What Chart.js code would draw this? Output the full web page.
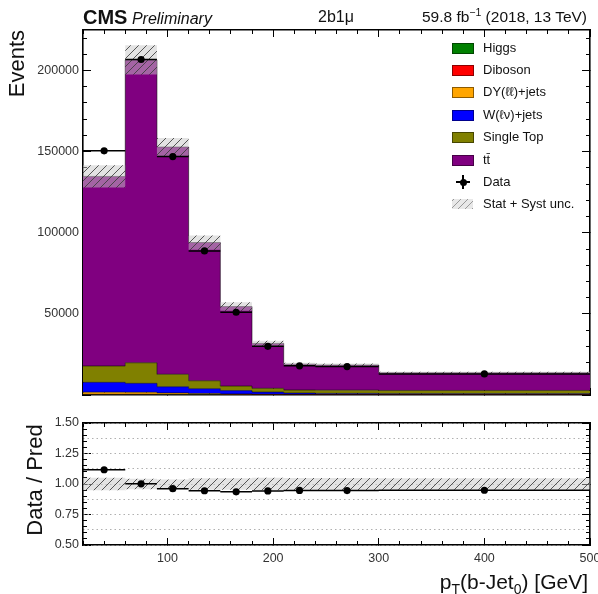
<!DOCTYPE html>
<html lang="en">
<head>
<meta charset="UTF-8">
<title>pT(b-Jet0) - 2b1mu</title>
<script src="https://cdn.jsdelivr.net/npm/chart.js"></script>
<style>
  body { margin: 0; background: #fff; font-family: "Liberation Sans", Arial, sans-serif; color: #111; }
  #wrap { position: relative; width: 598px; height: 594px; overflow: hidden; }
  canvas { position: absolute; left: 0; }
  .txt { position: absolute; white-space: nowrap; }
  .rot { position: absolute; white-space: nowrap; transform-origin: 0 0; transform: rotate(-90deg); width: 200px; }
  .leg { position: absolute; left: 452px; height: 22px; line-height: 22px; font-size: 13px; white-space: nowrap; }
  .leg .box { position: absolute; left: 0; top: 6px; width: 20px; height: 9px; border: 1px solid rgba(0,0,0,0.45); }
  .leg .lab { position: absolute; left: 31px; top: 0; }
</style>
</head>
<body>
<div id="wrap">
  <canvas id="mainChart" width="598" height="400" style="top:0"></canvas>
  <canvas id="ratioChart" width="598" height="194" style="top:400px"></canvas>

  <div class="txt" style="left:83px; top:7px; line-height:20px;"><b style="font-size:20px;">CMS</b> <i style="font-size:16px;">Preliminary</i></div>
  <div class="txt" style="left:318px; top:7px; font-size:16px; line-height:20px;">2b1μ</div>
  <div class="txt" style="right:11px; top:7px; font-size:15.5px; line-height:20px;">59.8 fb<sup style="font-size:10.5px; line-height:0;">−1</sup> (2018, 13 TeV)</div>

  <div class="rot" style="left:6px; top:230px; font-size:22px; line-height:22px; text-align:right;">Events</div>
  <div class="rot" style="left:24px; top:580px; font-size:22px; line-height:22px; text-align:center;">Data / Pred</div>
  <div class="txt" style="right:10px; top:570px; font-size:21px; line-height:24px;">p<sub style="font-size:14px; line-height:0;">T</sub>(b-Jet<sub style="font-size:14px; line-height:0;">0</sub>) [GeV]</div>

  <div id="legend"></div>
</div>

<script>
// binning of pT(b-Jet0) [GeV]
const binEdges = [20, 60, 90, 120, 150, 180, 210, 240, 300, 500];
const binCenters = [40, 75, 105, 135, 165, 195, 225, 270, 400];

// expected events per bin, per process
const higgs     = [150, 160, 120, 90, 60, 40, 30, 30, 25];
const diboson   = [300, 320, 260, 200, 150, 110, 80, 80, 70];
const dyJets    = [1300, 1200, 900, 650, 450, 320, 230, 220, 180];
const wJets     = [6050, 5500, 3800, 2950, 2050, 1330, 860, 670, 525];
const singleTop = [10100, 12700, 7700, 4900, 2800, 2300, 1900, 2000, 2000];
const ttbar     = [116850, 186700, 140100, 85200, 49000, 27700, 15900, 15500, 10900];

// observed data and total (stat + syst) uncertainty on the prediction
const dataCounts = [150500, 206800, 147000, 88800, 51000, 30000, 18000, 17500, 13000];
const mcUnc      = [6800, 9000, 5600, 4400, 2600, 1600, 950, 900, 650];

const yTickLabels = [50000, 100000, 150000, 200000];
const ratioTickLabels = [0.5, 0.75, 1.0, 1.25, 1.5];
const xTickLabels = [100, 200, 300, 400, 500];

const procNames  = ['Higgs', 'Diboson', 'DY(ℓℓ)+jets', 'W(ℓν)+jets', 'Single Top', 'tt̄'];
const procValues = [higgs, diboson, dyJets, wJets, singleTop, ttbar];
const procColors = ['#008000', '#ff0000', '#ffa500', '#0000ff', '#808000', '#800080'];

// hatch pattern for the uncertainty band
function makeHatch() {
    const c = document.createElement('canvas');
    c.width = 8; c.height = 8;
    const g = c.getContext('2d');
    g.fillStyle = 'rgba(200,200,200,0.5)';
    g.fillRect(0, 0, 8, 8);
    g.strokeStyle = 'rgba(60,60,60,0.85)';
    g.lineWidth = 1;
    g.beginPath();
    g.moveTo(0, 8); g.lineTo(8, 0);
    g.moveTo(-4, 4); g.lineTo(4, -4);
    g.moveTo(4, 12); g.lineTo(12, 4);
    g.stroke();
    return g.createPattern(c, 'repeat');
}
const hatch = makeHatch();

// histogram values -> points for a stepped line
function stepPoints(vals) {
    const pts = vals.map((v, i) => ({ x: binEdges[i], y: v }));
    pts.push({ x: binEdges[binEdges.length - 1], y: vals[vals.length - 1] });
    return pts;
}
// horizontal error bars (bin widths) with gaps between bins
function xErrPoints(vals) {
    const pts = [];
    vals.forEach((v, i) => {
        pts.push({ x: binEdges[i], y: v });
        pts.push({ x: binEdges[i + 1], y: v });
        pts.push({ x: binCenters[i], y: null });
    });
    return pts;
}

const total = binCenters.map((_, i) => procValues.reduce((s, arr) => s + arr[i], 0));
const ratio = dataCounts.map((d, i) => d / total[i]);

// ---- main panel datasets ----
const mainSets = [];
let cum = binCenters.map(() => 0);
procValues.forEach((vals, k) => {
    cum = cum.map((c, i) => c + vals[i]);
    mainSets.push({
        label: procNames[k],
        data: stepPoints(cum),
        stepped: true,
        fill: k === 0 ? 'origin' : '-1',
        backgroundColor: procColors[k],
        borderColor: 'rgba(0,0,0,0.55)',
        borderWidth: 1,
        pointRadius: 0,
        order: 10 + k
    });
});
mainSets.push({
    label: 'unc up', data: stepPoints(total.map((t, i) => t + mcUnc[i])),
    stepped: true, fill: '+1', backgroundColor: hatch, borderWidth: 0, pointRadius: 0, order: 5
});
mainSets.push({
    label: 'unc down', data: stepPoints(total.map((t, i) => t - mcUnc[i])),
    stepped: true, fill: false, borderWidth: 0, pointRadius: 0, order: 4
});
mainSets.push({
    label: 'Data xerr', data: xErrPoints(dataCounts),
    borderColor: '#000', borderWidth: 1.5, pointRadius: 0, fill: false, order: 1
});
mainSets.push({
    label: 'Data', data: dataCounts.map((d, i) => ({ x: binCenters[i], y: d })),
    showLine: false, pointRadius: 3.6, pointBackgroundColor: '#000', pointBorderWidth: 0, order: 0
});

// ---- ratio panel datasets ----
const ratioSets = [
    {
        label: 'band up', data: stepPoints(total.map((t, i) => 1 + mcUnc[i] / t)),
        stepped: true, fill: '+1', backgroundColor: hatch, borderWidth: 0, pointRadius: 0, order: 5
    },
    {
        label: 'band down', data: stepPoints(total.map((t, i) => 1 - mcUnc[i] / t)),
        stepped: true, fill: false, borderWidth: 0, pointRadius: 0, order: 4
    },
    {
        label: 'ratio xerr', data: xErrPoints(ratio),
        borderColor: '#000', borderWidth: 1.5, pointRadius: 0, fill: false, order: 1
    },
    {
        label: 'ratio', data: ratio.map((r, i) => ({ x: binCenters[i], y: r })),
        showLine: false, pointRadius: 3.6, pointBackgroundColor: '#000', pointBorderWidth: 0, order: 0
    }
];

const tickFont = { family: 'Liberation Sans', size: 12.5 };

function tickValues(min, max, step) {
    const out = [];
    for (let v = min; v <= max + 1e-9; v += step) out.push(Math.round(v * 1000) / 1000);
    return out;
}

// one tick-only axis; size sets the axis box thickness
function axis(opts) {
    const onArea = !!opts.gridOnArea;
    return {
        type: 'linear',
        position: opts.position,
        min: opts.min, max: opts.max,
        weight: opts.weight || 0,
        border: opts.border ? { display: true, color: '#000', width: 1.6 }
                            : { display: false, dash: opts.dash || [] },
        grid: {
            drawOnChartArea: onArea,
            drawTicks: !onArea,
            tickLength: opts.tick || -4,
            tickWidth: 1, tickColor: '#000',
            color: opts.gridColor || '#000',
            lineWidth: 1
        },
        ticks: {
            autoSkip: false,
            maxRotation: 0,
            padding: opts.padding || 0,
            color: '#333',
            font: tickFont,
            callback: v => (opts.labels && opts.labels.some(l => Math.abs(l - v) < 1e-9) ? (opts.fmt ? opts.fmt(v) : String(v)) : '')
        },
        afterBuildTicks: s => { s.ticks = tickValues(opts.from !== undefined ? opts.from : opts.min, opts.max, opts.step).map(v => ({ value: v })); },
        afterFit: s => {
            if (s.isHorizontal()) s.height = opts.size; else s.width = opts.size;
            s.paddingTop = 0; s.paddingBottom = 0; s.paddingLeft = 0; s.paddingRight = 0;
        }
    };
}

const xr = { min: 20, max: 500 };
const ym = { min: 0, max: 225000 };
const yr = { min: 0.5, max: 1.5 };

const mainScales = {
    x:       axis({ position: 'bottom', ...xr, from: 100, step: 100, tick: -7, size: 5, weight: 1, border: true }),
    xMin:    axis({ position: 'bottom', ...xr, step: 20, tick: -4, size: 0 }),
    xTop:    axis({ position: 'top', ...xr, from: 100, step: 100, tick: -7, size: 30, weight: 1, border: true }),
    xTopMin: axis({ position: 'top', ...xr, step: 20, tick: -4, size: 0 }),
    y:       axis({ position: 'left', ...ym, step: 50000, tick: -8, size: 83, weight: 1, border: true, labels: yTickLabels, padding: 12 }),
    yMin:    axis({ position: 'left', ...ym, step: 10000, tick: -4, size: 0 }),
    yR:      axis({ position: 'right', ...ym, step: 50000, tick: -8, size: 8, weight: 1, border: true }),
    yRMin:   axis({ position: 'right', ...ym, step: 10000, tick: -4, size: 0 })
};

const ratioScales = {
    x:       axis({ position: 'bottom', ...xr, from: 100, step: 100, tick: -7, size: 49, weight: 1, border: true, labels: xTickLabels, padding: 13 }),
    xMin:    axis({ position: 'bottom', ...xr, step: 20, tick: -4, size: 0 }),
    xTop:    axis({ position: 'top', ...xr, from: 100, step: 100, tick: -7, size: 23, weight: 1, border: true }),
    xTopMin: axis({ position: 'top', ...xr, step: 20, tick: -4, size: 0 }),
    y:       axis({ position: 'left', ...yr, step: 0.25, tick: -8, size: 83, weight: 1, border: true, labels: ratioTickLabels, padding: 12, fmt: v => v.toFixed(2) }),
    yMin:    axis({ position: 'left', ...yr, step: 0.05, tick: -4, size: 0 }),
    yGrid:   axis({ position: 'left', ...yr, step: 0.125, size: 0, gridOnArea: true, gridColor: '#b0b0b0', dash: [1.5, 3] }),
    yR:      axis({ position: 'right', ...yr, step: 0.25, tick: -8, size: 8, weight: 1, border: true }),
    yRMin:   axis({ position: 'right', ...yr, step: 0.05, tick: -4, size: 0 })
};

const common = {
    responsive: false,
    animation: false,
    layout: { padding: 0 },
    plugins: { legend: { display: false }, tooltip: { enabled: false } },
    elements: { line: { tension: 0 } }
};

new Chart(document.getElementById('mainChart').getContext('2d'), {
    type: 'line',
    data: { datasets: mainSets },
    options: { ...common, scales: mainScales }
});

new Chart(document.getElementById('ratioChart').getContext('2d'), {
    type: 'line',
    data: { datasets: ratioSets },
    options: { ...common, scales: ratioScales }
});

// ---- legend (HTML) ----
const legend = document.getElementById('legend');
const rowCenters = [48, 70, 92, 115, 137, 160, 182, 204];
const legendRows = procNames.map((n, k) => ({ name: n, kind: 'box', color: procColors[k] }))
    .concat([{ name: 'Data', kind: 'data' }, { name: 'Stat + Syst unc.', kind: 'hatch' }]);
legendRows.forEach((r, i) => {
    const row = document.createElement('div');
    row.className = 'leg';
    row.style.top = (rowCenters[i] - 11) + 'px';
    let sym = '';
    if (r.kind === 'box') {
        sym = '<span class="box" style="background:' + r.color + '"></span>';
    } else if (r.kind === 'data') {
        sym = '<span style="position:absolute;left:4px;top:10px;width:14px;height:1.5px;background:#000"></span>' +
              '<span style="position:absolute;left:10.3px;top:4px;width:1.5px;height:14px;background:#000"></span>' +
              '<span style="position:absolute;left:7.5px;top:7.5px;width:7px;height:7px;border-radius:50%;background:#000"></span>';
    } else {
        sym = '<span style="position:absolute;left:0;top:6px;width:21px;height:10px;' +
              'background:repeating-linear-gradient(-45deg, #999 0 1px, #e8e8e8 1px 5px);"></span>';
    }
    row.innerHTML = sym + '<span class="lab">' + r.name + '</span>';
    legend.appendChild(row);
});
</script>
</body>
</html>
